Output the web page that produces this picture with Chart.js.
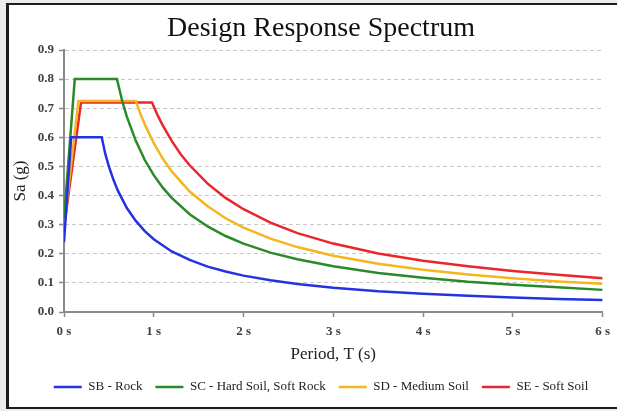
<!DOCTYPE html>
<html>
<head>
<meta charset="utf-8">
<script src="https://cdn.jsdelivr.net/npm/chart.js@4/dist/chart.umd.min.js"></script>
<style>
    html, body { margin: 0; padding: 0; overflow: hidden; background: #ececec; }
    #frame {
        position: absolute; left: 6px; top: 3px; width: 700px; height: 406px;
        box-sizing: border-box; background: #fff;
        border-left: 3px solid #1c1c1c; border-top: 2px solid #1c1c1c; border-bottom: 2px solid #1c1c1c;
    }
    #spectrum { position: absolute; left: 0; top: 0; }
</style>
</head>
<body>
<div id="frame"></div>
<canvas id="spectrum" width="617" height="411"></canvas>
<script>
// period (s) and spectral acceleration Sa (g)
var sbPeriod = [0, 0.08, 0.42, 0.46, 0.5, 0.55, 0.6, 0.7, 0.8, 0.9, 1.0, 1.2, 1.4, 1.6, 1.8, 2.0, 2.3, 2.6, 3.0, 3.5, 4.0, 4.5, 5.0, 5.5, 6.0];
var sbSa     = [0.24, 0.6, 0.6, 0.543, 0.5, 0.455, 0.417, 0.357, 0.313, 0.278, 0.25, 0.208, 0.179, 0.156, 0.139, 0.125, 0.109, 0.096, 0.083, 0.071, 0.063, 0.056, 0.05, 0.045, 0.041];

var scPeriod = [0, 0.12, 0.59, 0.65, 0.7, 0.8, 0.9, 1.0, 1.1, 1.2, 1.4, 1.6, 1.8, 2.0, 2.3, 2.6, 3.0, 3.5, 4.0, 4.5, 5.0, 5.5, 6.0];
var scSa     = [0.32, 0.8, 0.8, 0.723, 0.671, 0.588, 0.522, 0.47, 0.427, 0.392, 0.336, 0.294, 0.261, 0.235, 0.204, 0.181, 0.157, 0.134, 0.118, 0.104, 0.094, 0.085, 0.076];

var sdPeriod = [0, 0.16, 0.8, 0.85, 0.9, 1.0, 1.1, 1.2, 1.4, 1.6, 1.8, 2.0, 2.3, 2.6, 3.0, 3.5, 4.0, 4.5, 5.0, 5.5, 6.0];
var sdSa     = [0.29, 0.725, 0.725, 0.682, 0.644, 0.58, 0.527, 0.483, 0.414, 0.363, 0.322, 0.29, 0.252, 0.223, 0.193, 0.166, 0.145, 0.129, 0.116, 0.105, 0.097];

var sePeriod = [0, 0.19, 0.98, 1.05, 1.1, 1.2, 1.3, 1.4, 1.6, 1.8, 2.0, 2.3, 2.6, 3.0, 3.5, 4.0, 4.5, 5.0, 5.5, 6.0];
var seSa     = [0.29, 0.72, 0.72, 0.671, 0.641, 0.588, 0.542, 0.504, 0.441, 0.392, 0.353, 0.307, 0.271, 0.235, 0.201, 0.176, 0.157, 0.141, 0.128, 0.116];

var seriesNames = ['SB - Rock', 'SC - Hard Soil, Soft Rock', 'SD - Medium Soil', 'SE - Soft Soil'];
var seriesColors = ['#2433e0', '#2a8a2a', '#f3b61f', '#e8262b'];

function toPoints(periods, values) {
    var pts = [];
    for (var i = 0; i < periods.length; i++) {
        pts.push({x: periods[i], y: values[i]});
    }
    return pts;
}

var allData = [toPoints(sbPeriod, sbSa), toPoints(scPeriod, scSa), toPoints(sdPeriod, sdSa), toPoints(sePeriod, seSa)];

var datasets = [];
for (var i = 0; i < allData.length; i++) {
    datasets.push({
        label: seriesNames[i],
        data: allData[i],
        borderColor: seriesColors[i],
        backgroundColor: seriesColors[i],
        borderWidth: 2.5,
        pointRadius: 0,
        pointStyle: 'line',
        tension: 0
    });
}

var serif = "'Liberation Serif', 'Times New Roman', serif";
var padLeft = 35;   // nudges legend and title right, like the original

var ctx = document.getElementById('spectrum').getContext('2d');
var spectrumChart = new Chart(ctx, {
    type: 'line',
    data: {datasets: datasets},
    options: {
        responsive: false,
        animation: false,
        layout: {padding: {left: padLeft, right: 10, top: 0, bottom: 7.5}},
        plugins: {
            title: {
                display: true,
                text: 'Design Response Spectrum',
                color: '#111',
                font: {family: serif, size: 28, weight: 'normal'},
                padding: {top: 12, bottom: 4.4}
            },
            legend: {
                position: 'bottom',
                labels: {
                    usePointStyle: true,
                    pointStyle: 'line',
                    pointStyleWidth: 28,
                    padding: 13,
                    color: '#222',
                    font: {family: serif, size: 13}
                }
            },
            tooltip: {enabled: false}
        },
        scales: {
            x: {
                type: 'linear',
                min: 0,
                max: 6,
                ticks: {
                    stepSize: 1,
                    color: '#404040',
                    padding: 7,
                    font: {family: serif, size: 13, weight: 'bold'},
                    callback: function (v) { return v + ' s'; }
                },
                grid: {drawOnChartArea: false, tickLength: 5, tickColor: '#8a8a8a', tickWidth: 1.5},
                border: {color: '#8a8a8a', width: 2},
                title: {
                    display: true,
                    text: 'Period, T (s)',
                    color: '#222',
                    font: {family: serif, size: 17},
                    padding: {top: 0, bottom: 2.3}
                },
                afterFit: function (scale) { scale.height = 55.5; }
            },
            y: {
                min: 0,
                max: 0.9,
                ticks: {
                    stepSize: 0.1,
                    color: '#404040',
                    padding: 5,
                    font: {family: serif, size: 13, weight: 'bold'},
                    callback: function (v) { return v.toFixed(1); }
                },
                grid: {color: '#c8c8c8', lineWidth: 1, tickLength: 5, tickColor: '#8a8a8a', tickWidth: 1.5, tickBorderDash: []},
                border: {color: '#8a8a8a', width: 2, dash: [4, 3]},
                title: {
                    display: true,
                    text: 'Sa (g)',
                    color: '#222',
                    font: {family: serif, size: 17},
                    padding: {top: -25, bottom: 0}
                },
                afterFit: function (scale) { scale.width = 64 - padLeft; }
            }
        }
    }
});
</script>
</body>
</html>
